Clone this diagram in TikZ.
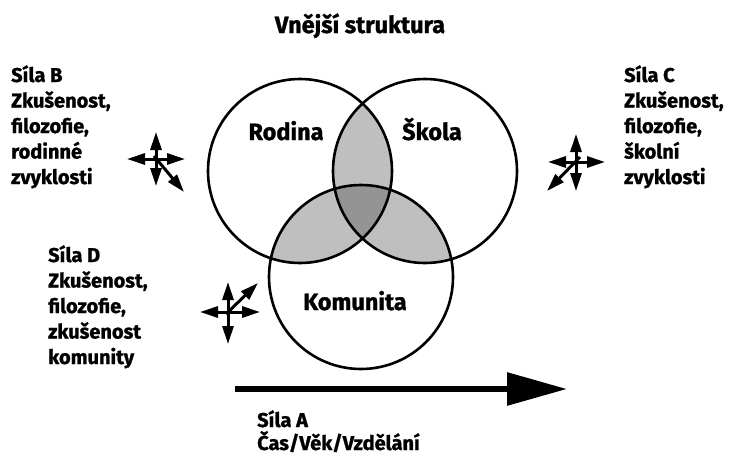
\documentclass[tikz,border=0pt]{standalone}
\usepackage{fontspec}
\setmainfont{Fira Sans}[BoldFeatures={FakeBold=1.2}]
\usetikzlibrary{arrows.meta,positioning}

\begin{document}
\begin{tikzpicture}[x=1pt,y=-1pt,>={Triangle[length=18pt,width=11pt]},line join=miter]
\tikzstyle{every node}=[font=\bfseries\fontsize{20}{25.5}\selectfont,inner sep=0pt,text=black]
\tikzstyle{sila}=[align=left,anchor=base west]
\tikzstyle{kruh}=[draw=black,line width=2.6pt]
\tikzstyle{sipka}=[<->,line width=3pt]
\tikzstyle{sikmo}=[->,line width=3pt]
\tikzstyle{jmeno}=[anchor=base,font=\bfseries\fontsize{23.5}{26}\selectfont]
\useasboundingbox (0,0) rectangle (729,455);
\coordinate (R) at (300,171);
\coordinate (S) at (425,171);
\coordinate (K) at (361,277);
% prekryvy
\begin{scope}
  \clip (R) circle[radius=92pt];
  \fill[black!25] (S) circle[radius=92pt];
  \fill[black!25] (K) circle[radius=92pt];
\end{scope}
\begin{scope}
  \clip (S) circle[radius=92pt];
  \fill[black!25] (K) circle[radius=92pt];
\end{scope}
\begin{scope}
  \clip (R) circle[radius=92pt];
  \clip (S) circle[radius=92pt];
  \fill[black!42] (K) circle[radius=92pt];
\end{scope}
\draw[kruh] (R) circle[radius=92pt];
\draw[kruh] (S) circle[radius=92pt];
\draw[kruh] (K) circle[radius=92pt];
\node[jmeno] (rodina) at (286,140) {Rodina};
\node[jmeno] (skola) at (432,140) {Škola};
\node[jmeno] (komunita) at (355,310) {Komunita};

\node (titul) at (360,33) [anchor=base,font=\bfseries\fontsize{23.5}{26}\selectfont] {Vnější struktura};
% posledni radek je base
\node[sila] (silaB) at (11,184) {Síla B\\Zkušenost,\\filozofie,\\rodinné\\zvyklosti};
\node[sila] (silaC) at (624,184) {Síla C\\Zkušenost,\\filozofie,\\školní\\zvyklosti};
\node[sila] (silaD) at (48,364) {Síla D\\Zkušenost,\\filozofie,\\zkušenost\\komunity};
\node[sila,font=\bfseries\fontsize{20}{23}\selectfont] (silaA) at (257,450) {Síla A\\Čas/Věk/Vzdělání};

% sily
\coordinate (kB) at (156,159);
\draw[sipka] ([yshift=-27]kB) -- ([yshift=27]kB);
\draw[sipka] ([xshift=-29]kB) -- ([xshift=29]kB);
\draw[sikmo] ([shift={(-2,-3)}]kB) -- ([shift={(28,33)}]kB);
\coordinate (kC) at (576,162);
\draw[sipka] ([yshift=-29]kC) -- ([yshift=28]kC);
\draw[sipka] ([xshift=-28]kC) -- ([xshift=29]kC);
\draw[sikmo] ([shift={(4,-5)}]kC) -- ([shift={(-29,29)}]kC);
\coordinate (kD) at (228,312);
\draw[sipka] ([yshift=-32]kD) -- ([yshift=30]kD);
\draw[sipka] ([xshift=-28]kD) -- ([xshift=32]kD);
\draw[sikmo] ([shift={(-2,2)}]kD) -- ([shift={(30,-29)}]kD);

\coordinate (casA) at (235,389);
\coordinate (casB) at (567,389);
\draw[-{Triangle[length=60pt,width=32pt]},line width=6pt] (casA) -- (casB);
\end{tikzpicture}
\end{document}
